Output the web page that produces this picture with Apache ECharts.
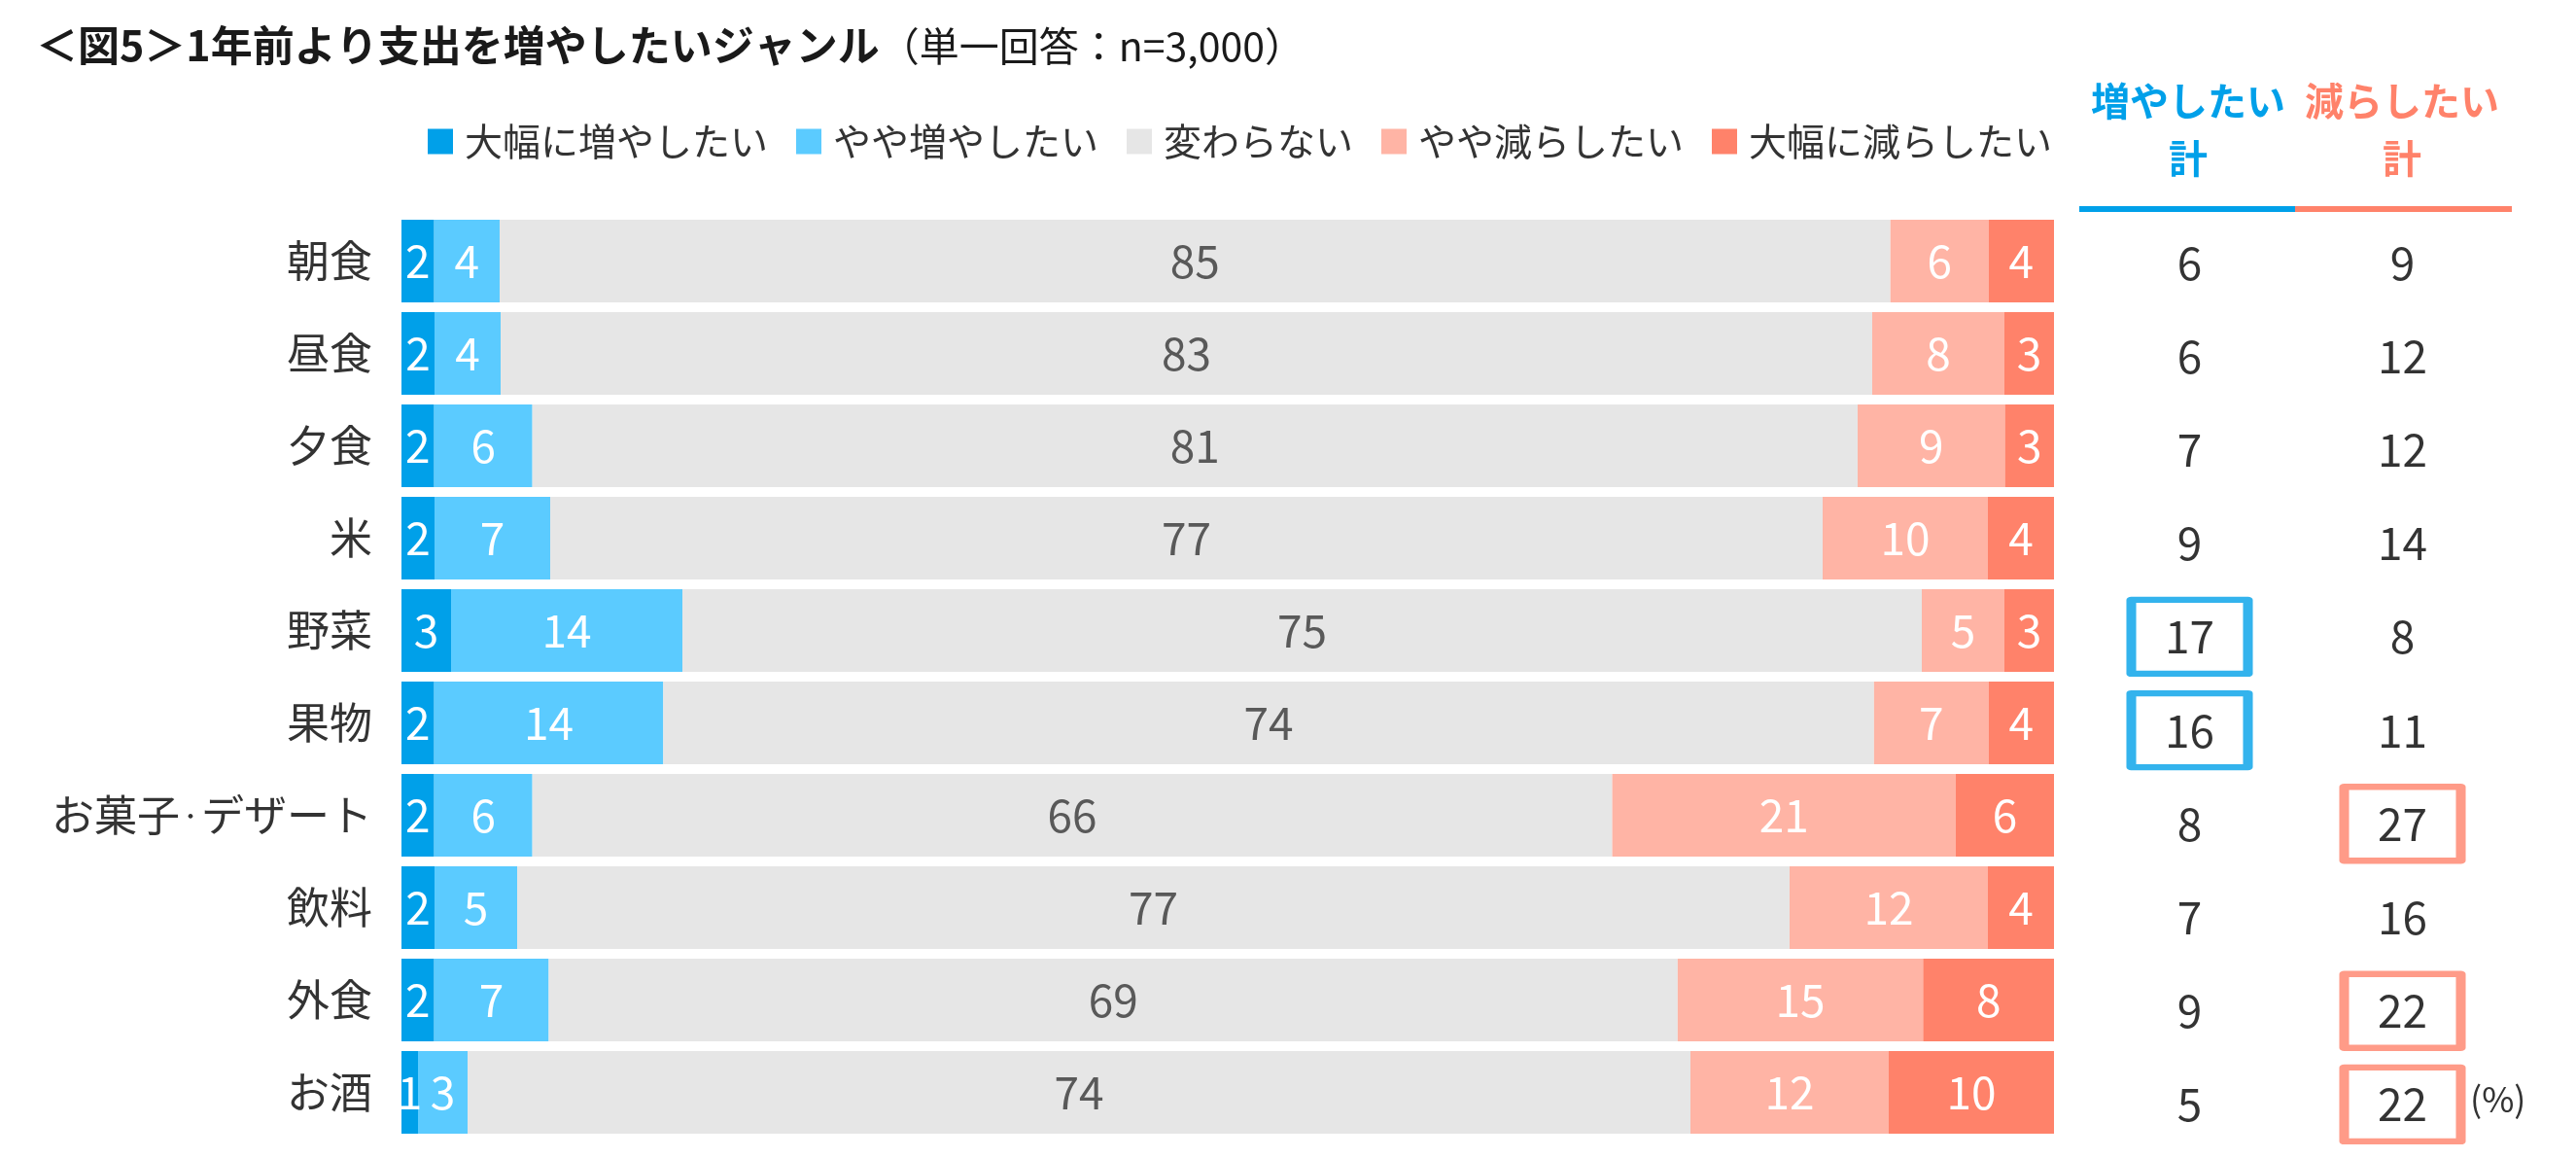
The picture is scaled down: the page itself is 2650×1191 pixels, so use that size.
<!DOCTYPE html>
<html><head><meta charset="utf-8">
<script src="https://cdn.jsdelivr.net/npm/echarts@6/dist/echarts.min.js"></script>
<style>html,body{margin:0;padding:0;background:#fff}#c{width:2650px;height:1191px}</style>
</head><body><div id="c"></div>
<script>
const categories = ['朝食','昼食','夕食','米','野菜','果物','お菓子・デザート','飲料','外食','お酒'];
const seriesNames = ['大幅に増やしたい','やや増やしたい','変わらない','やや減らしたい','大幅に減らしたい'];
const bigInc   = [2,2,2,2,3,2,2,2,2,1];
const smallInc = [4,4,6,7,14,14,6,5,7,3];
const noChange = [85,83,81,77,75,74,66,77,69,74];
const smallDec = [6,8,9,10,5,7,21,12,15,12];
const bigDec   = [4,3,3,4,3,4,6,4,8,10];
const incTotal = [6,6,7,9,17,16,8,7,9,5];
const decTotal = [9,12,12,14,8,11,27,16,22,22];
const totalHeaders = ['増やしたい\n計','減らしたい\n計'];
const incHighlight = ['野菜','果物'];
const decHighlight = ['お菓子・デザート','外食','お酒'];

const colors = ['#00A0E9','#5BCBFF','#E6E6E6','#FFB4A5','#FF826A'];
const labelColors = ['#fff','#fff','#595959','#fff','#fff'];
const FONT = '"Noto Sans CJK JP","Noto Sans",sans-serif';
const raw = [bigInc, smallInc, noChange, smallDec, bigDec];
// 100% stacked: each row shown as share of its row total
const rowTotals = categories.map((c,i)=>raw.reduce((s,a)=>s+a[i],0));

const barSeries = raw.map((arr,k)=>({
  name: seriesNames[k], type:'bar', stack:'all', barWidth:85,
  xAxisIndex:0, yAxisIndex:0,
  itemStyle:{color:colors[k]},
  data: arr.map((v,i)=>v/rowTotals[i]*100),
  label:{show:true, position:'inside', color:labelColors[k], fontSize:46, fontFamily:FONT,
    formatter:p=>String(arr[p.dataIndex])}
}));

function totalSeries(vals, col, hl, color){
  return {
    type:'scatter', xAxisIndex:1, yAxisIndex:1, silent:true,
    data: vals.map((v,i)=>{
      const on = hl.indexOf(categories[i])>=0;
      return {value:[col, i, v], symbol:'rect', symbolSize: on?[120,76]:0,
        itemStyle:{color:'rgba(0,0,0,0)', borderColor:color, borderWidth: on?8:0, borderJoin:'round'}};
    }),
    label:{show:true, position:'inside', color:'#000', fontSize:46, fontFamily:FONT,
      formatter:p=>String(p.value[2])}
  };
}

const chart = echarts.init(document.getElementById('c'), null, {renderer:'canvas'});
chart.setOption({
  animation:false,
  textStyle:{fontFamily:FONT},
  title:{left:32, top:20,
    text:'{b|＜図5＞1年前より支出を増やしたいジャンル}{n|（単一回答：n=3,000）}',
    textStyle:{rich:{
      b:{fontSize:43, fontWeight:'bold', color:'#1a1a1a', fontFamily:FONT},
      n:{fontSize:41, fontWeight:'normal', color:'#1a1a1a', fontFamily:FONT, padding:[2,0,0,0]}
    }}},
  legend:{data:seriesNames, left:440, top:126, itemGap:29, itemWidth:26, itemHeight:26,
    icon:'rect', padding:0, textStyle:{fontSize:39, color:'#333', fontFamily:FONT, padding:[0,0,4,7]}},
  grid:[
    {left:413, right:537, top:221, height:950},
    {left:2143, right:69, top:222, height:962}
  ],
  xAxis:[
    {type:'value', gridIndex:0, min:0, max:100, show:false},
    {type:'category', gridIndex:1, data:totalHeaders, show:false}
  ],
  yAxis:[
    {type:'category', gridIndex:0, data:categories, inverse:true,
     axisLine:{show:false}, axisTick:{show:false},
     axisLabel:{fontSize:44, color:'#333', margin:30, fontFamily:FONT,
       formatter:v=>v.replace('・','{d|・}'),
       rich:{d:{fontSize:22, color:'#333', fontFamily:FONT}}}},
    {type:'category', gridIndex:1, data:categories, inverse:true, show:false}
  ],
  series: barSeries.concat([
    totalSeries(incTotal, 0, incHighlight, '#00A0E9'),
    totalSeries(decTotal, 1, decHighlight, '#FF826A')
  ]),
  graphic:[
    {type:'text', left:2251-100, top:84, style:{text:'増やしたい', fill:'#00A0E9', font:'bold 40px '+FONT}},
    {type:'text', left:2251-20, top:143, style:{text:'計', fill:'#00A0E9', font:'bold 40px '+FONT}},
    {type:'text', left:2471-100, top:84, style:{text:'減らしたい', fill:'#FF826A', font:'bold 40px '+FONT}},
    {type:'text', left:2471-20, top:143, style:{text:'計', fill:'#FF826A', font:'bold 40px '+FONT}},
    {type:'rect', left:2139, top:212, shape:{width:222, height:6}, style:{fill:'#00A0E9'}},
    {type:'rect', left:2361, top:212, shape:{width:223, height:6}, style:{fill:'#FF826A'}},
    {type:'text', left:2541, top:1112, style:{text:'(%)', fill:'#333', font:'36px '+FONT}}
  ]
});
</script></body></html>
